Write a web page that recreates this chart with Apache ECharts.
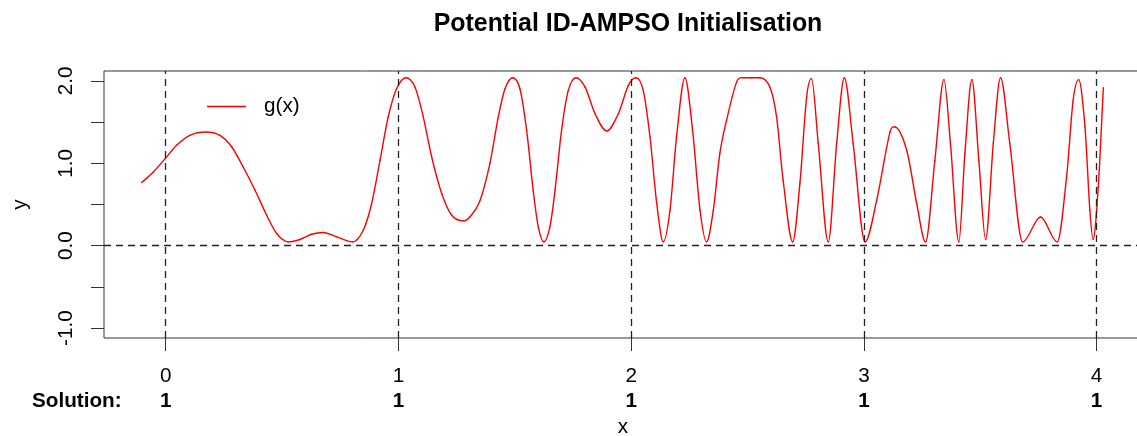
<!DOCTYPE html>
<html>
<head>
<meta charset="utf-8">
<title>Potential ID-AMPSO Initialisation</title>
<script src="https://cdn.jsdelivr.net/npm/echarts@6/dist/echarts.min.js"></script>
<style>
  html, body { margin: 0; padding: 0; background: #fff; }
  #main { width: 1137px; height: 436px; }
</style>
</head>
<body>
<div id="main"></div>
<script>
var FONT = '"Liberation Sans", Arial, Helvetica, sans-serif';

// g(x) (x, y)
var curveX = [-0.103, -0.053, -0.002, 0.047, 0.104, 0.173, 0.233, 0.284, 0.333, 0.384,
  0.434, 0.477, 0.527, 0.577, 0.627, 0.677, 0.735, 0.803, 0.849, 0.885,
  0.921, 0.956, 0.992, 1.032, 1.071, 1.107, 1.143, 1.186, 1.229, 1.279,
  1.307, 1.350, 1.393, 1.429, 1.458, 1.491, 1.522, 1.551, 1.579, 1.601,
  1.625, 1.651, 1.673, 1.701, 1.730, 1.763, 1.802, 1.845, 1.895, 1.945,
  1.988, 2.021, 2.052, 2.081, 2.110, 2.138, 2.167, 2.195, 2.231, 2.264,
  2.296, 2.324, 2.353, 2.381, 2.410, 2.453, 2.480, 2.517, 2.553, 2.596,
  2.625, 2.653, 2.694, 2.725, 2.754, 2.775, 2.804, 2.847, 2.883, 2.916,
  2.954, 3.005, 3.055, 3.112, 3.133, 3.184, 3.227, 3.265, 3.305, 3.344,
  3.372, 3.408, 3.434, 3.464, 3.494, 3.523, 3.556, 3.587, 3.627, 3.682,
  3.759, 3.831, 3.871, 3.899, 3.923, 3.950, 3.971, 3.985, 4.007, 4.029];
var curveY = [0.766, 0.895, 1.057, 1.218, 1.339, 1.379, 1.339, 1.198, 0.955, 0.673,
  0.370, 0.148, 0.046, 0.075, 0.139, 0.160, 0.107, 0.046, 0.188, 0.512,
  1.036, 1.561, 1.905, 2.039, 1.925, 1.561, 1.076, 0.633, 0.370, 0.301,
  0.349, 0.542, 0.996, 1.561, 1.905, 2.039, 1.905, 1.400, 0.673, 0.228,
  0.046, 0.228, 0.673, 1.400, 1.885, 2.039, 1.925, 1.602, 1.392, 1.602,
  1.945, 2.039, 1.885, 1.319, 0.512, 0.046, 0.430, 1.319, 2.039, 1.400,
  0.430, 0.046, 0.430, 1.118, 1.521, 1.985, 2.039, 2.039, 2.039, 1.925,
  1.561, 0.794, 0.046, 0.754, 1.804, 2.027, 1.239, 0.046, 1.239, 2.039,
  1.239, 0.046, 0.552, 1.379, 1.440, 1.158, 0.512, 0.046, 1.036, 2.015,
  1.239, 0.046, 1.118, 2.015, 1.036, 0.075, 1.239, 2.039, 1.239, 0.046,
  0.349, 0.046, 0.834, 1.764, 2.015, 1.440, 0.430, 0.079, 0.713, 1.918];

// x ticks and the solution bit printed under each
var xTicks = [0, 1, 2, 3, 4];
var solutionBits = [1, 1, 1, 1, 1];

// y ticks (all marks) and the labelled ones
var yTicks = [-1, -0.5, 0, 0.5, 1, 1.5, 2];
var yLabels = [-1, 0, 1, 2];

var points = curveX.map(function(x, i) {
  return [x, curveY[i]];
});

// dashed guide lines: one per tick plus y = 0
var guideLines = xTicks.map(function(v) {
  return { xAxis: v };
});
guideLines.push({ yAxis: 0 });

/**
 * 三次插值的切线（像素坐标），极值点处取水平
 */
function tangentAt(api, j) {
  var n = points.length;
  var a = api.coord(points[Math.max(j - 1, 0)]);
  var b = api.coord(points[j]);
  var c = api.coord(points[Math.min(j + 1, n - 1)]);
  var d0 = j > 0 ? (b[1] - a[1]) / (b[0] - a[0]) : null;
  var d1 = j < n - 1 ? (c[1] - b[1]) / (c[0] - b[0]) : null;
  if (d0 === null) return d1;
  if (d1 === null) return d0;
  if (d0 * d1 <= 0) return 0;
  return (c[1] - a[1]) / (c[0] - a[0]);
}

/**
 * 每个数据点画到下一个点的一段曲线
 */
function renderSegment(params, api) {
  var i = params.dataIndex;
  if (i >= points.length - 1) return null;
  var p1 = api.coord(points[i]);
  var p2 = api.coord(points[i + 1]);
  var h = (p2[0] - p1[0]) / 3;
  var m1 = tangentAt(api, i);
  var m2 = tangentAt(api, i + 1);
  return {
    type: 'bezierCurve',
    shape: {
      x1: p1[0], y1: p1[1],
      x2: p2[0], y2: p2[1],
      cpx1: p1[0] + h, cpy1: p1[1] + m1 * h,
      cpx2: p2[0] - h, cpy2: p2[1] - m2 * h
    },
    style: { stroke: '#ff0000', lineWidth: 1.4, fill: null, lineCap: 'round' }
  };
}

var chart = echarts.init(document.getElementById('main'), null, { renderer: 'canvas' });

var option = {
  animation: false,
  backgroundColor: '#fff',
  textStyle: { fontFamily: FONT },
  title: {
    text: 'Potential ID-AMPSO Initialisation',
    left: 623,
    top: 7,
    textAlign: 'center',
    textStyle: { fontFamily: FONT, fontSize: 24.9, fontWeight: 'bold', color: '#000' }
  },
  legend: {
    left: 207,
    top: 96,
    padding: 0,
    icon: 'rect',
    itemWidth: 39,
    itemHeight: 1.5,
    textStyle: { fontFamily: FONT, fontSize: 20.7, color: '#000', padding: [0, 0, 0, 13] },
    data: ['g(x)']
  },
  grid: {
    left: 104,
    right: -5,
    top: 71,
    bottom: 98,
    show: true,
    borderColor: '#333',
    borderWidth: 1,
    backgroundColor: 'transparent',
    containLabel: false,
    outerBoundsMode: 'none'
  },
  xAxis: {
    type: 'value',
    min: -0.265,
    max: 4.195,
    name: 'x',
    nameLocation: 'middle',
    nameGap: 78,
    nameTextStyle: { fontFamily: FONT, fontSize: 20.7, color: '#000' },
    axisLine: { show: false, onZero: false },
    axisTick: { show: true, length: 13, customValues: xTicks, lineStyle: { color: '#333', width: 1 } },
    axisLabel: {
      customValues: xTicks,
      margin: 26,
      formatter: function(v) {
        var i = xTicks.indexOf(v);
        return '{n|' + v + '}\n{b|' + solutionBits[i] + '}';
      },
      rich: {
        n: { fontFamily: FONT, fontSize: 20.7, color: '#000', lineHeight: 25 },
        b: { fontFamily: FONT, fontSize: 20.7, fontWeight: 'bold', color: '#000', lineHeight: 25 }
      }
    },
    splitLine: { show: false }
  },
  yAxis: {
    type: 'value',
    min: -1.12,
    max: 2.12,
    name: 'y',
    nameLocation: 'middle',
    nameRotate: 90,
    nameGap: 73,
    nameTextStyle: { fontFamily: FONT, fontSize: 20.7, color: '#000' },
    axisLine: { show: false, onZero: false },
    axisTick: { show: true, length: 13, customValues: yTicks, lineStyle: { color: '#333', width: 1 } },
    axisLabel: {
      customValues: yLabels,
      rotate: 90,
      margin: 27,
      fontFamily: FONT,
      fontSize: 20.7,
      color: '#000',
      formatter: function(v) {
        return v.toFixed(1);
      }
    },
    splitLine: { show: false }
  },
  graphic: [
    {
      type: 'text',
      x: 32,
      y: 401,
      style: {
        text: 'Solution:',
        fill: '#000',
        font: 'bold 20.7px ' + FONT,
        verticalAlign: 'middle'
      }
    }
  ],
  series: [
    {
      name: 'g(x)',
      type: 'custom',
      data: points,
      encode: { x: 0, y: 1 },
      renderItem: renderSegment,
      silent: true,
      itemStyle: { color: '#ff0000' }
    },
    {
      name: 'guides',
      type: 'line',
      data: [],
      silent: true,
      markLine: {
        silent: true,
        symbol: ['none', 'none'],
        label: { show: false },
        lineStyle: { color: '#222', width: 1.3, type: [7, 5] },
        data: guideLines
      }
    }
  ]
};

chart.setOption(option);
</script>
</body>
</html>
